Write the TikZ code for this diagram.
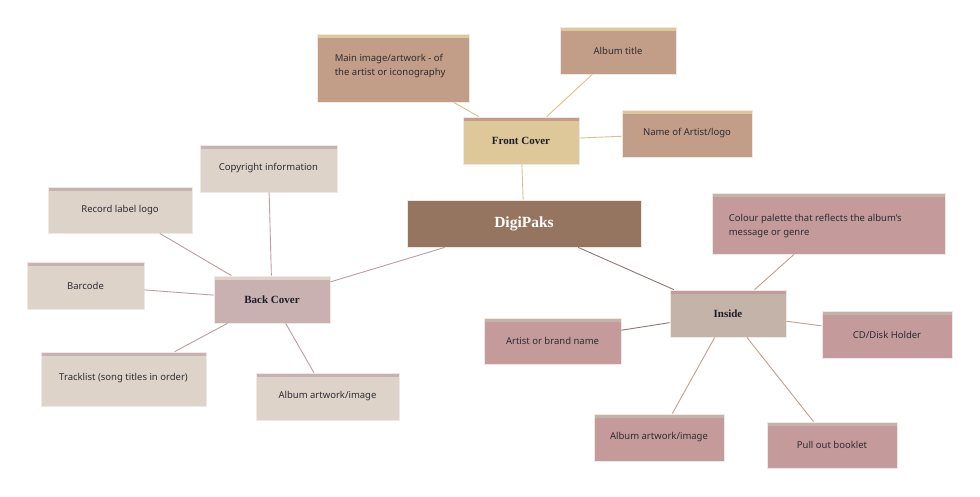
\documentclass[tikz,border=0pt]{standalone}
\usepackage{fontspec}
\setmainfont{Noto Sans}
\newfontfamily\headfont{Liberation Serif}
\usetikzlibrary{positioning}
\definecolor{dpbrown}{HTML}{967560}
\definecolor{dpsand}{HTML}{DEC89A}
\definecolor{dpclay}{HTML}{C29D87}
\definecolor{dpmauve}{HTML}{C9B1B2}
\definecolor{dpbeige}{HTML}{DDD3C8}
\definecolor{dptaupe}{HTML}{C4B3A8}
\definecolor{dprose}{HTML}{C49A9A}
\definecolor{dpedge}{HTML}{EDE9E6}
\definecolor{dptext}{HTML}{2E2C34}
\definecolor{dpdark}{HTML}{1E1E28}
\definecolor{lnsand}{HTML}{DCC088}
\definecolor{lnmauve}{HTML}{BE9DA0}
\definecolor{lngray}{HTML}{8A7A76}
\definecolor{lnclay}{HTML}{BCA290}
\tikzset{
  box/.style={
    rectangle, draw=dpedge, line width=0.8pt, inner sep=0pt,
    text=dptext, font=\fontsize{9.5}{14}\selectfont
  },
  topbar/.style={
    path picture={\fill[#1] (path picture bounding box.north west)
      rectangle ([yshift=-3.5pt]path picture bounding box.north east);}
  },
  hub/.style={
    box, text=dpdark, font=\headfont\bfseries\fontsize{11}{13}\selectfont
  },
  hubF/.style={hub, fill=dpsand, topbar=dpclay},
  hubB/.style={hub, fill=dpmauve, topbar=dpbeige},
  hubI/.style={hub, fill=dptaupe, topbar=dprose},
  leafF/.style={box, fill=dpclay, topbar=dpsand},
  leafB/.style={box, fill=dpbeige, topbar=dpmauve},
  leafI/.style={box, fill=dprose, topbar=dptaupe},
  toptxt/.style={
    anchor=north west, align=left, inner sep=0pt,
    text=dptext, font=\fontsize{9.5}{14}\selectfont
  },
  link/.style={line width=0.9pt, color=#1}
}

\begin{document}
\begin{tikzpicture}[x=1pt, y=-1pt]
  \useasboundingbox[fill=white] (0,0) rectangle (980,496);

  % root
  \node[box, fill=dpbrown, text=white, minimum width=234pt, minimum height=47pt,
        font=\headfont\bfseries\fontsize{15.5}{18}\selectfont]
    (root) at (524,223.5) {DigiPaks};

  % front cover
  \node[hubF, minimum width=116pt, minimum height=47pt] (front) at (521,140.5) {Front Cover};
  \node[leafF, minimum width=152pt, minimum height=68pt,
        label={[toptxt, xshift=18pt, yshift=-20pt]north west:{Main image/artwork - of\\the artist or iconography}}]
    (fimg) at (393,68) {};
  \node[leafF, minimum width=116pt, minimum height=47pt] (ftitle) at (618,50.5) {Album title};
  \node[leafF, minimum width=130pt, minimum height=47pt] (fname) at (687,133.5) {Name of Artist/logo};

  % back cover
  \node[hubB, minimum width=116pt, minimum height=47pt] (back) at (272,299.5) {Back Cover};
  \node[leafB, minimum width=137pt, minimum height=47pt] (bcopy) at (268.5,168.5) {Copyright information};
  \node[leafB, minimum width=144pt, minimum height=46pt] (blabel) at (120,210) {Record label logo};
  \node[leafB, minimum width=117pt, minimum height=47pt] (bcode) at (85.5,285.5) {Barcode};
  \node[leafB, minimum width=165pt, minimum height=54pt, text depth=4pt] (btrack) at (123.5,379) {Tracklist (song titles in order)};
  \node[leafB, minimum width=143pt, minimum height=47pt] (bart) at (327.5,396.5) {Album artwork/image};

  % inside
  \node[hubI, minimum width=116pt, minimum height=47pt] (inside) at (728,313.5) {Inside};
  \node[leafI, minimum width=233pt, minimum height=61pt,
        label={[toptxt, xshift=17pt, yshift=-21pt]north west:{Colour palette that reflects the album's\\message or genre}}]
    (icol) at (828.5,223.5) {};
  \node[leafI, minimum width=137pt, minimum height=46pt] (iname) at (552.5,341) {Artist or brand name};
  \node[leafI, minimum width=130pt, minimum height=47pt] (icd) at (887,334.5) {CD/Disk Holder};
  \node[leafI, minimum width=130pt, minimum height=47pt] (iart) at (659,437.5) {Album artwork/image};
  \node[leafI, minimum width=130pt, minimum height=46pt] (ibook) at (832,445) {Pull out booklet};

  % connectors
  \draw[link=lnsand] (root) -- (front);
  \foreach \x in {fimg,ftitle,fname}
    \draw[link=lnsand] (front) -- (\x);

  \draw[link=lnmauve] (root) -- (back);
  \foreach \x in {bcopy,blabel,bcode,btrack,bart}
    \draw[link=lnmauve] (back) -- (\x);

  \draw[link=lngray] (root) -- (inside);
  \draw[link=lngray] (inside) -- (iname);
  \foreach \x in {icol,icd,iart,ibook}
    \draw[link=lnclay] (inside) -- (\x);
\end{tikzpicture}
\end{document}
